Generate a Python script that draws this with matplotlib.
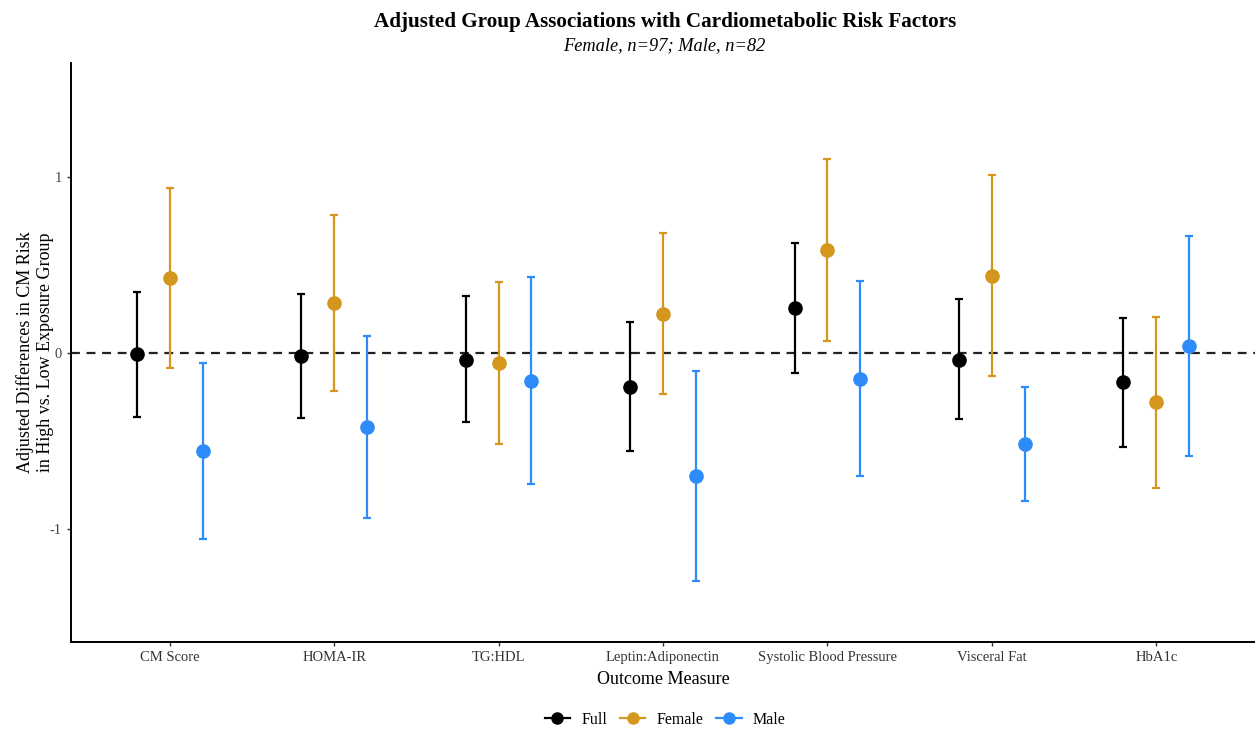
import matplotlib
matplotlib.use("Agg")
import matplotlib.pyplot as plt
from matplotlib.lines import Line2D
import numpy as np

plt.rcParams['font.family'] = ['Liberation Serif', 'DejaVu Serif']

categories = ["CM Score", "HOMA-IR", "TG:HDL", "Leptin:Adiponectin",
              "Systolic Blood Pressure", "Visceral Fat", "HbA1c"]
groups = ["Full", "Female", "Male"]

full_est = [-0.005, -0.014, -0.037, -0.193, 0.254, -0.037, -0.166]
full_lo = [-0.364, -0.368, -0.394, -0.559, -0.115, -0.375, -0.535]
full_hi = [0.350, 0.337, 0.322, 0.174, 0.624, 0.305, 0.198]

female_est = [0.426, 0.284, -0.056, 0.223, 0.586, 0.440, -0.280]
female_lo = [-0.084, -0.216, -0.518, -0.235, 0.069, -0.132, -0.765]
female_hi = [0.939, 0.787, 0.404, 0.681, 1.103, 1.011, 0.206]

male_est = [-0.557, -0.421, -0.157, -0.698, -0.145, -0.516, 0.041]
male_lo = [-1.057, -0.939, -0.745, -1.294, -0.698, -0.839, -0.586]
male_hi = [-0.056, 0.100, 0.434, -0.101, 0.411, -0.193, 0.664]

colors = {"Full": "#000000", "Female": "#D4961C", "Male": "#2E8BFA"}
offsets = {"Full": -0.2, "Female": 0.0, "Male": 0.2}
data = {
    "Full": (full_est, full_lo, full_hi),
    "Female": (female_est, female_lo, female_hi),
    "Male": (male_est, male_lo, male_hi),
}

fig = plt.figure(figsize=(12.55, 7.30), dpi=100)
ax = fig.add_axes([0.0566, 0.121, 0.9434, 0.793])

x = np.arange(1, len(categories) + 1)
ax.axhline(0, color="#222222", linestyle=(0, (4, 3)), linewidth=1.6, zorder=1)

for g in groups:
    est, lo, hi = (np.array(v) for v in data[g])
    xs = x + offsets[g]
    ax.errorbar(xs, est, yerr=[est - lo, hi - est], fmt='none',
                ecolor=colors[g], elinewidth=1.6, capsize=3, capthick=1.6, zorder=2)
    ax.plot(xs, est, 'o', color=colors[g], markersize=9.5, zorder=3)

ax.set_xlim(0.4, 7.6)
ax.set_ylim(-1.64, 1.65)
ax.set_xticks(x)
ax.set_xticklabels(categories, fontsize=10.5, color="#333333")
ax.set_yticks([-1, 0, 1])
ax.set_yticklabels(["-1", "0", "1"], fontsize=10.5, color="#444444")
ax.tick_params(axis='both', length=3, width=1, color="#333333")
for s in ["top", "right"]:
    ax.spines[s].set_visible(False)
for s in ["left", "bottom"]:
    ax.spines[s].set_linewidth(1.4)

ax.set_xlabel("Outcome Measure", fontsize=13, labelpad=5)
ax.set_ylabel("Adjusted Differences in CM Risk\nin High vs. Low Exposure Group",
              fontsize=13, labelpad=-3, linespacing=1.25)

fig.text(0.53, 0.970, "Adjusted Group Associations with Cardiometabolic Risk Factors",
         ha='center', va='center', fontsize=15.2, fontweight='bold')
fig.text(0.529, 0.937, "Female, n=97; Male, n=82", ha='center', va='center',
         fontsize=13.2, style='italic')

handles = [Line2D([0], [0], color=colors[g], marker='o', markersize=8,
                  linewidth=1.6) for g in groups]
fig.legend(handles, groups, loc='center', bbox_to_anchor=(0.53, 0.014),
           ncol=3, frameon=False, fontsize=11.5, handlelength=1.6,
           columnspacing=0.8, handletextpad=0.7)

fig.savefig("out.png", dpi=100)
